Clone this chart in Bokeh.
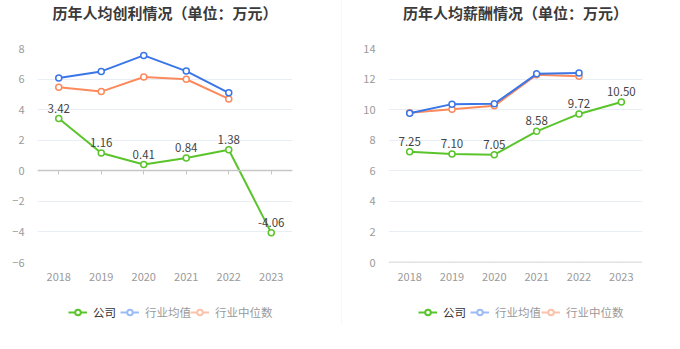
from bokeh.plotting import figure
from bokeh.layouts import row, column
from bokeh.models import (ColumnDataSource, Legend, LegendItem, FixedTicker,
                          CategoricalAxis, Label, Range1d)
from bokeh.core.properties import value
from bokeh.embed import file_html
from bokeh.resources import INLINE

years = ["2018", "2019", "2020", "2021", "2022", "2023"]
years_ind = ["2018", "2019", "2020", "2021", "2022"]

profit_company = [3.42, 1.16, 0.41, 0.84, 1.38, -4.06]
profit_avg = [6.07, 6.50, 7.55, 6.52, 5.10]
profit_median = [5.47, 5.18, 6.14, 5.99, 4.70]

salary_company = [7.25, 7.10, 7.05, 8.58, 9.72, 10.50]
salary_avg = [9.77, 10.36, 10.38, 12.34, 12.40]
salary_median = [9.79, 10.03, 10.25, 12.28, 12.19]

title_left = "历年人均创利情况（单位：万元）"
title_right = "历年人均薪酬情况（单位：万元）"
legend_names = ["公司", "行业均值", "行业中位数"]

GREEN = "#5ac42b"
BLUE = "#3a76e8"
ORANGE = "#fc8a5c"
BLUE_L = "#9bbcf4"
ORANGE_L = "#fdc2aa"
FONT = "Noto Sans CJK SC"

TITLE_H = 40
CHART_H = 260
LEG_H = 49


def blank_fig(w, h):
    f = figure(width=w, height=h, x_range=Range1d(0, 1), y_range=Range1d(0, h),
               output_backend="svg", toolbar_location=None,
               x_axis_location=None, y_axis_location=None,
               min_border=0, min_border_left=0, min_border_right=0,
               min_border_top=0, min_border_bottom=0)
    f.grid.visible = False
    f.outline_line_color = None
    f.border_fill_color = "white"
    f.background_fill_color = "white"
    return f


def make_title(w, text):
    f = blank_fig(w, TITLE_H)
    f.add_layout(Label(x=0.5, y=TITLE_H - 12, text=text, text_align="center",
                       text_baseline="middle", text_font=FONT, text_font_size="15px",
                       text_font_style="bold", text_color="#3a3a3a"))
    return f


def make_chart(company, avg, median, y_lo, y_hi, w, lb, rb):
    p = figure(width=w, height=CHART_H, x_range=years, y_range=(y_lo, y_hi),
               output_backend="svg", toolbar_location=None,
               min_border_left=lb, min_border_right=rb,
               min_border_top=8, min_border_bottom=38)
    p.outline_line_color = None
    p.background_fill_color = "white"
    p.border_fill_color = "white"

    ticks = list(range(y_lo, y_hi + 1, 2))
    p.xgrid.grid_line_color = None
    p.ygrid.grid_line_color = "#e9edf5"
    p.ygrid.ticker = FixedTicker(ticks=ticks)

    p.yaxis.ticker = FixedTicker(ticks=ticks)
    p.yaxis.axis_line_color = None
    p.yaxis.major_tick_line_color = None
    p.yaxis.minor_tick_line_color = None
    p.yaxis.major_label_text_color = "#9a9a9a"
    p.yaxis.major_label_text_font = FONT
    p.yaxis.major_label_text_font_size = "11px"
    p.yaxis.major_label_standoff = 7

    p.xaxis.axis_line_color = None
    p.xaxis.major_tick_line_color = None
    p.xaxis.minor_tick_line_color = None
    p.xaxis.major_label_text_color = "#9a9a9a"
    p.xaxis.major_label_text_font = FONT
    p.xaxis.major_label_text_font_size = "11px"
    p.xaxis.major_label_standoff = 4

    zax = CategoricalAxis(fixed_location=0)
    zax.axis_line_color = "#c6c6c6"
    zax.axis_line_width = 1.5
    zax.major_tick_line_color = "#c6c6c6"
    zax.major_tick_in = 0
    zax.major_tick_out = 4
    zax.major_label_text_font_size = "0px"
    zax.major_label_text_alpha = 0
    zax.major_label_standoff = 0
    p.add_layout(zax, "below")

    src_c = ColumnDataSource(dict(x=years, y=company, t=["%.2f" % v for v in company]))
    src_a = ColumnDataSource(dict(x=years_ind, y=avg))
    src_m = ColumnDataSource(dict(x=years_ind, y=median))

    p.line("x", "y", source=src_m, color=ORANGE, line_width=2)
    p.scatter("x", "y", source=src_m, size=6, fill_color="white", line_color=ORANGE, line_width=1.5)
    p.line("x", "y", source=src_a, color=BLUE, line_width=2)
    p.scatter("x", "y", source=src_a, size=6, fill_color="white", line_color=BLUE, line_width=1.5)
    p.line("x", "y", source=src_c, color=GREEN, line_width=2)
    p.scatter("x", "y", source=src_c, size=6, fill_color="white", line_color=GREEN, line_width=1.5)
    p.text("x", "y", text="t", source=src_c, y_offset=-6, text_align="center",
           text_baseline="bottom", text_font_size="11.5px", text_color="#444444",
           text_font=value(FONT))
    return p


def make_legend(w, xs):
    f = blank_fig(w, LEG_H)
    cols = [GREEN, BLUE_L, ORANGE_L]
    txtc = ["#333333", "#999999", "#999999"]
    for i, (name, c) in enumerate(zip(legend_names, cols)):
        src = ColumnDataSource(dict(x=[-500, -490], y=[-500, -500]))
        r1 = f.line("x", "y", source=src, color=c, line_width=2)
        r2 = f.scatter("x", "y", source=src, size=9, fill_color="white",
                       line_color=c, line_width=2)
        lg = Legend(items=[LegendItem(label=name, renderers=[r1, r2], index=0)],
                    location=(xs[i], 29), orientation="horizontal",
                    background_fill_alpha=0, border_line_color=None,
                    label_text_font=FONT, label_text_font_size="11.5px",
                    label_text_color=txtc[i], glyph_width=19, glyph_height=14,
                    label_height=14, padding=0, margin=0, label_standoff=6, spacing=0)
        f.add_layout(lg, "center")
    return f


t1 = make_title(341, title_left)
t2 = make_title(338, title_right)
p1 = make_chart(profit_company, profit_avg, profit_median, -6, 8, 341, 37, 49)
p2 = make_chart(salary_company, salary_avg, salary_median, 0, 14, 338, 46, 38)
# legend/title frames are aligned with the chart frames, so positions are frame-relative
l1 = make_legend(341, [31, 83, 153])
l2 = make_legend(338, [30, 82, 153])

sep = figure(width=1, height=325, output_backend="svg", toolbar_location=None,
             x_axis_location=None, y_axis_location=None,
             min_border=0, min_border_left=0, min_border_right=0,
             min_border_top=0, min_border_bottom=0)
sep.grid.visible = False
sep.outline_line_color = None
sep.background_fill_color = "#f2f2f2"
sep.border_fill_color = "#f2f2f2"

lay = row(column(t1, p1, l1, spacing=0), sep, column(t2, p2, l2, spacing=0), spacing=0)

open("out.html", "w").write(file_html(lay, INLINE))
